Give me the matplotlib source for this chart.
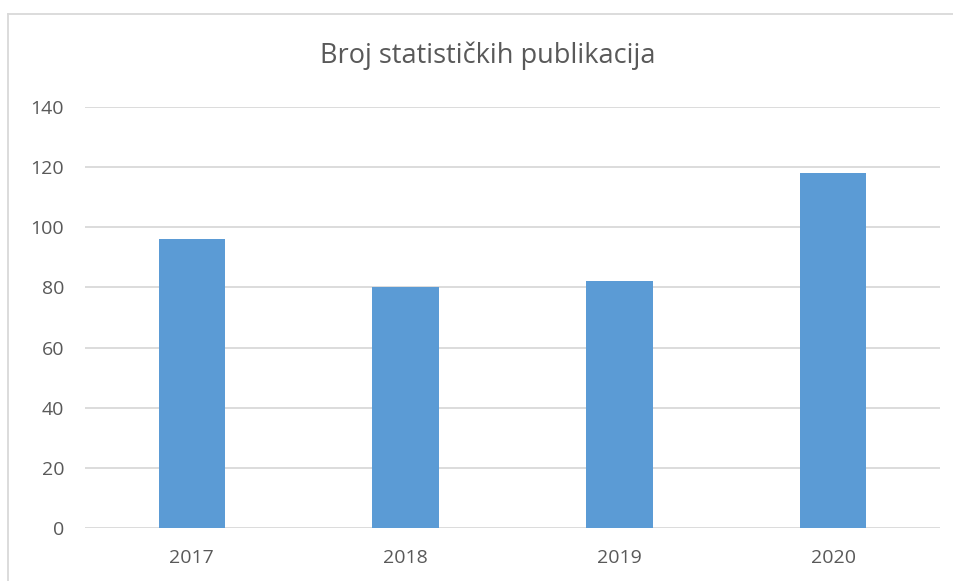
import matplotlib.pyplot as plt
from matplotlib.lines import Line2D

# data
years = ['2017', '2018', '2019', '2020']
counts = [96, 80, 82, 118]
yticks = [0, 20, 40, 60, 80, 100, 120, 140]

W, H = 954, 581
fig = plt.figure(figsize=(W / 100, H / 100), dpi=100)
plt.rcParams['font.family'] = ['Open Sans', 'DejaVu Sans']

# plot area in pixels: x 85..940, y 107..528
ax = fig.add_axes([85 / W, (H - 528) / H, 855 / W, (528 - 107) / H])
x = range(len(years))
ax.bar(x, counts, width=0.31, color='#5b9bd5', zorder=3)
ax.set_xlim(-0.5, len(years) - 0.5)
ax.set_ylim(0, 140)
ax.set_yticks(yticks)
ax.set_xticks(list(x))
ax.set_xticklabels(years)
ax.grid(axis='y', color='#d9d9d9', linewidth=1.3, zorder=0)
for s in ax.spines.values():
    s.set_visible(False)
ax.tick_params(length=0, labelsize=14, colors='#595959')
ax.tick_params(axis='y', pad=15)
ax.tick_params(axis='x', pad=15)

fig.text(488 / W, 1 - 63 / H, 'Broj statističkih publikacija', ha='center', va='baseline',
         fontsize=19.5, color='#595959')

# chart border (top and left visible)
fig.add_artist(Line2D([8 / W, 1.0], [1 - 14 / H, 1 - 14 / H], color='#d9d9d9', lw=1.3))
fig.add_artist(Line2D([8 / W, 8 / W], [0, 1 - 14 / H], color='#d9d9d9', lw=1.3))

fig.savefig('out.png', dpi=100)
